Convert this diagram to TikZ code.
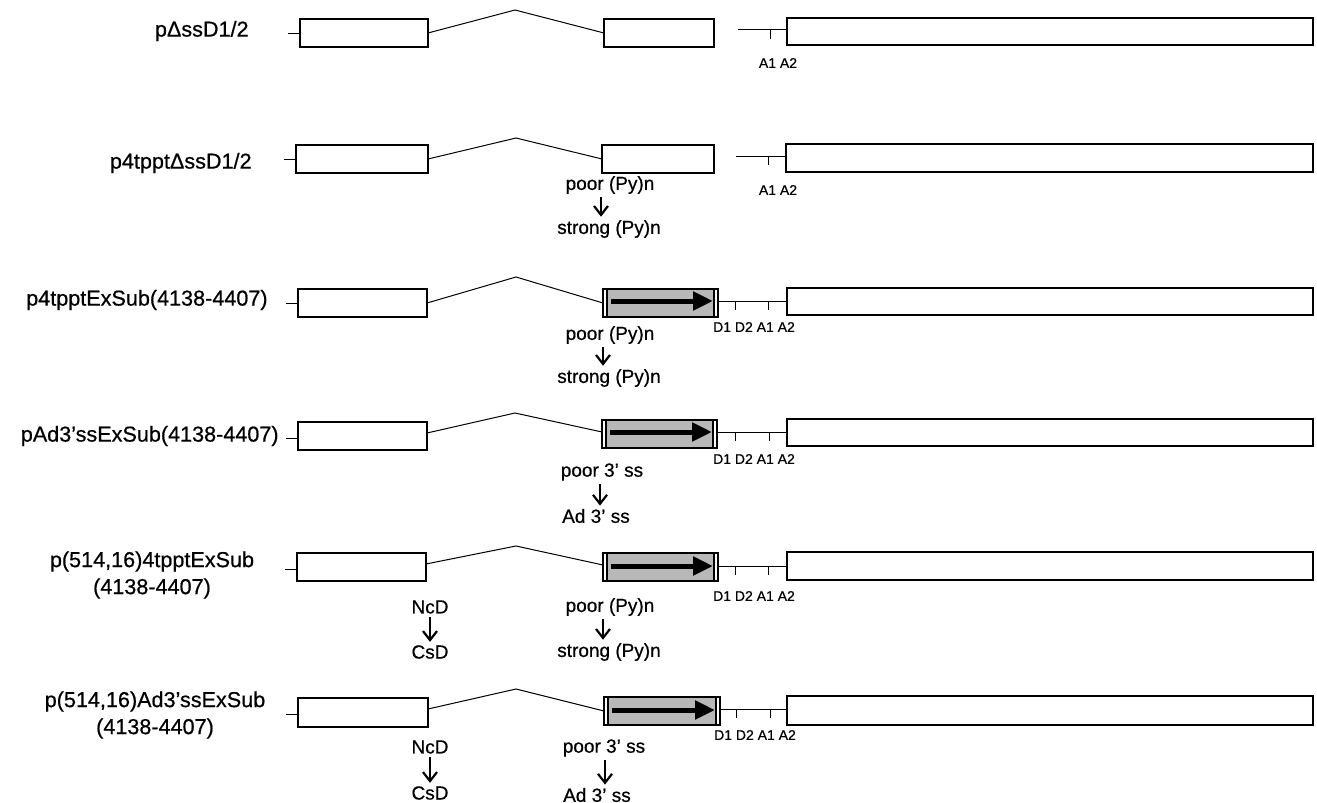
\documentclass[tikz,border=0pt]{standalone}
\usepackage{fontspec}
\setmainfont{Liberation Sans}[FakeBold=0.6]
\usetikzlibrary{arrows.meta}

\begin{document}
\begin{tikzpicture}[
    x=0.5pt,
    y=-0.5pt,
    line join=miter,
    exon/.style={
        draw,
        line width=0.65pt
    },
    intron/.style={
        line width=0.5pt
    },
    orf/.style={
        fill=black!28
    },
    orfarrow/.style={
        line width=2.5pt,
        -{Triangle[length=10pt,width=9pt]}
    },
    change/.style={
        line width=0.6pt,
        -{Straight Barb[length=4.5pt,width=7pt,line width=1.1pt]}
    },
    plasmid/.style={
        font=\fontsize{10.8}{13.5}\selectfont,
        inner sep=0pt,
        align=center
    },
    site/.style={
        font=\fontsize{7}{8}\selectfont,
        inner sep=0pt
    },
    note/.style={
        font=\fontsize{9.5}{11}\selectfont,
        inner sep=1.5pt
    }
]

% -------------------------------------------------
% Рамка рисунка
% -------------------------------------------------

\useasboundingbox (0,0) rectangle (1317,803);

% -------------------------------------------------
% pΔssD1/2
% -------------------------------------------------

\def\rowy{33}   % ось строки

\node[plasmid, anchor=east] (lab1) at (249,31) {pΔssD1/2};

\draw[intron] (288,\rowy) -- (300,\rowy);
\draw[exon] (300,\rowy-14) rectangle (428,\rowy+14);
\draw[intron] (428,\rowy) -- (515,\rowy-23) -- (604,\rowy);
\draw[exon] (604,\rowy-14) rectangle (714,\rowy+14);

% сайты A1, A2
\draw[intron] (738,\rowy-4) -- (787,\rowy-4);
\draw[intron] (770,\rowy-4) -- (770,\rowy+6);
\draw[exon] (787,\rowy-15) rectangle (1313,\rowy+12);
\node[site] (sites1) at (778,\rowy+30) {A1 A2};

% -------------------------------------------------
% p4tpptΔssD1/2
% -------------------------------------------------

\def\rowy{159}

\node[plasmid, anchor=east] (lab2) at (252,163) {p4tpptΔssD1/2};

\draw[intron] (284,\rowy) -- (296,\rowy);
\draw[exon] (296,\rowy-14) rectangle (428,\rowy+14);
\draw[intron] (428,\rowy) -- (516,\rowy-21) -- (602,\rowy);
\draw[exon] (602,\rowy-14) rectangle (714,\rowy+14);

\draw[intron] (736,\rowy-3) -- (786,\rowy-3);
\draw[intron] (768,\rowy-3) -- (768,\rowy+6);
\draw[exon] (786,\rowy-15) rectangle (1313,\rowy+13);
\node[site] (sites2) at (778,\rowy+31) {A1 A2};

% замена пиримидинового тракта
\node[note] (poor2) at (610,185) {poor (Py)n};
\node[note] (strong2) at (609,229) {strong (Py)n};
\draw[change] ([xshift=-4.5pt]poor2.south) -- ([xshift=-4pt]strong2.north);

% -------------------------------------------------
% p4tpptExSub(4138-4407)
% -------------------------------------------------

\def\rowy{303}

\node[plasmid, anchor=east] (lab3) at (268,300) {p4tpptExSub(4138-4407)};

\draw[intron] (286,\rowy) -- (298,\rowy);
\draw[exon] (298,\rowy-14) rectangle (427,\rowy+14);
\draw[intron] (427,\rowy) -- (516,\rowy-26) -- (603,\rowy);

% подставленный экзон
\fill[orf] (607,\rowy-14) rectangle (714,\rowy+14);
\draw[exon] (603,\rowy-14) rectangle (718,\rowy+14);
\draw[exon] (607,\rowy-14) -- (607,\rowy+14);
\draw[exon] (714,\rowy-14) -- (714,\rowy+14);
\draw[orfarrow] (611,\rowy-2) -- (713,\rowy-2);

% сайты D1, D2, A1, A2
\draw[intron] (718,\rowy-2) -- (787,\rowy-2);
\draw[intron] (735,\rowy-2) -- (735,\rowy+7);
\draw[intron] (768,\rowy-2) -- (768,\rowy+7);
\draw[exon] (787,\rowy-15) rectangle (1313,\rowy+12);
\node[site] (sites3) at (754,\rowy+24) {D1 D2 A1 A2};

\node[note] (poor3) at (610,335) {poor (Py)n};
\node[note] (strong3) at (609,378) {strong (Py)n};
\draw[change] ([xshift=-3.5pt]poor3.south) -- ([xshift=-3pt]strong3.north);

% -------------------------------------------------
% pAd3'ssExSub(4138-4407)
% -------------------------------------------------

\def\rowy{436}

\node[plasmid, anchor=east] (lab4) at (279,436) {pAd3’ssExSub(4138-4407)};

\draw[intron] (286,\rowy+2) -- (298,\rowy+2);
\draw[exon] (298,\rowy-14) rectangle (427,\rowy+14);
\draw[intron] (427,\rowy-3) -- (515,\rowy-23) -- (602,\rowy-4);

\fill[orf] (606,\rowy-16) rectangle (713,\rowy+12);
\draw[exon] (602,\rowy-16) rectangle (717,\rowy+12);
\draw[exon] (606,\rowy-16) -- (606,\rowy+12);
\draw[exon] (713,\rowy-16) -- (713,\rowy+12);
\draw[orfarrow] (610,\rowy-4) -- (712,\rowy-4);

\draw[intron] (717,\rowy-4) -- (787,\rowy-4);
\draw[intron] (735,\rowy-4) -- (735,\rowy+5);
\draw[intron] (769,\rowy-4) -- (769,\rowy+5);
\draw[exon] (787,\rowy-17) rectangle (1313,\rowy+10);
\node[site] (sites4) at (754,\rowy+23) {D1 D2 A1 A2};

% замена 3'-сайта сплайсинга
\node[note] (poor4) at (602,472) {poor 3’ ss};
\node[note] (ad4) at (596,516) {Ad 3’ ss};
\draw[change] ([xshift=-1pt]poor4.south) -- ([xshift=2pt]ad4.north);

% -------------------------------------------------
% p(514,16)4tpptExSub (4138-4407)
% -------------------------------------------------

\def\rowy{567}

\node[plasmid] (lab5) at (152,575) {p(514,16)4tpptExSub\\(4138-4407)};

\draw[intron] (285,\rowy+2) -- (297,\rowy+2);
\draw[exon] (297,\rowy-14) rectangle (426,\rowy+14);
\draw[intron] (426,\rowy-3) -- (516,\rowy-21) -- (603,\rowy-2);

\fill[orf] (607,\rowy-14) rectangle (714,\rowy+14);
\draw[exon] (603,\rowy-14) rectangle (718,\rowy+14);
\draw[exon] (607,\rowy-14) -- (607,\rowy+14);
\draw[exon] (714,\rowy-14) -- (714,\rowy+14);
\draw[orfarrow] (611,\rowy-1) -- (713,\rowy-1);

\draw[intron] (718,\rowy-1) -- (787,\rowy-1);
\draw[intron] (735,\rowy-1) -- (735,\rowy+8);
\draw[intron] (768,\rowy-1) -- (768,\rowy+8);
\draw[exon] (787,\rowy-15) rectangle (1313,\rowy+13);
\node[site] (sites5) at (754,\rowy+29) {D1 D2 A1 A2};

% замена донорного сайта
\node[note] (ncd5) at (430,607) {NcD};
\node[note] (csd5) at (430,652) {CsD};
\draw[change] (ncd5) -- (csd5);

\node[note] (poor5) at (610,607) {poor (Py)n};
\node[note] (strong5) at (609,652) {strong (Py)n};
\draw[change] ([xshift=-3.5pt]poor5.south) -- ([xshift=-3pt]strong5.north);

% -------------------------------------------------
% p(514,16)Ad3'ssExSub (4138-4407)
% -------------------------------------------------

\def\rowy{712}

\node[plasmid] (lab6) at (155,715) {p(514,16)Ad3’ssExSub\\(4138-4407)};

\draw[intron] (286,\rowy+2) -- (298,\rowy+2);
\draw[exon] (298,\rowy-14) rectangle (428,\rowy+15);
\draw[intron] (428,\rowy-3) -- (516,\rowy-23) -- (604,\rowy-1);

\fill[orf] (608,\rowy-15) rectangle (716,\rowy+13);
\draw[exon] (604,\rowy-15) rectangle (720,\rowy+13);
\draw[exon] (608,\rowy-15) -- (608,\rowy+13);
\draw[exon] (716,\rowy-15) -- (716,\rowy+13);
\draw[orfarrow] (612,\rowy-2) -- (715,\rowy-2);

\draw[intron] (720,\rowy-3) -- (787,\rowy-3);
\draw[intron] (736,\rowy-3) -- (736,\rowy+6);
\draw[intron] (770,\rowy-3) -- (770,\rowy+6);
\draw[exon] (787,\rowy-16) rectangle (1313,\rowy+13);
\node[site] (sites6) at (755,\rowy+23) {D1 D2 A1 A2};

\node[note] (ncd6) at (430,747) {NcD};
\node[note] (csd6) at (430,793) {CsD};
\draw[change] (ncd6) -- (csd6);

\node[note] (poor6) at (604,748) {poor 3’ ss};
\node[note] (ad6) at (597,795) {Ad 3’ ss};
\draw[change] ([xshift=0.5pt]poor6.south) -- ([xshift=4pt]ad6.north);

\end{tikzpicture}
\end{document}
